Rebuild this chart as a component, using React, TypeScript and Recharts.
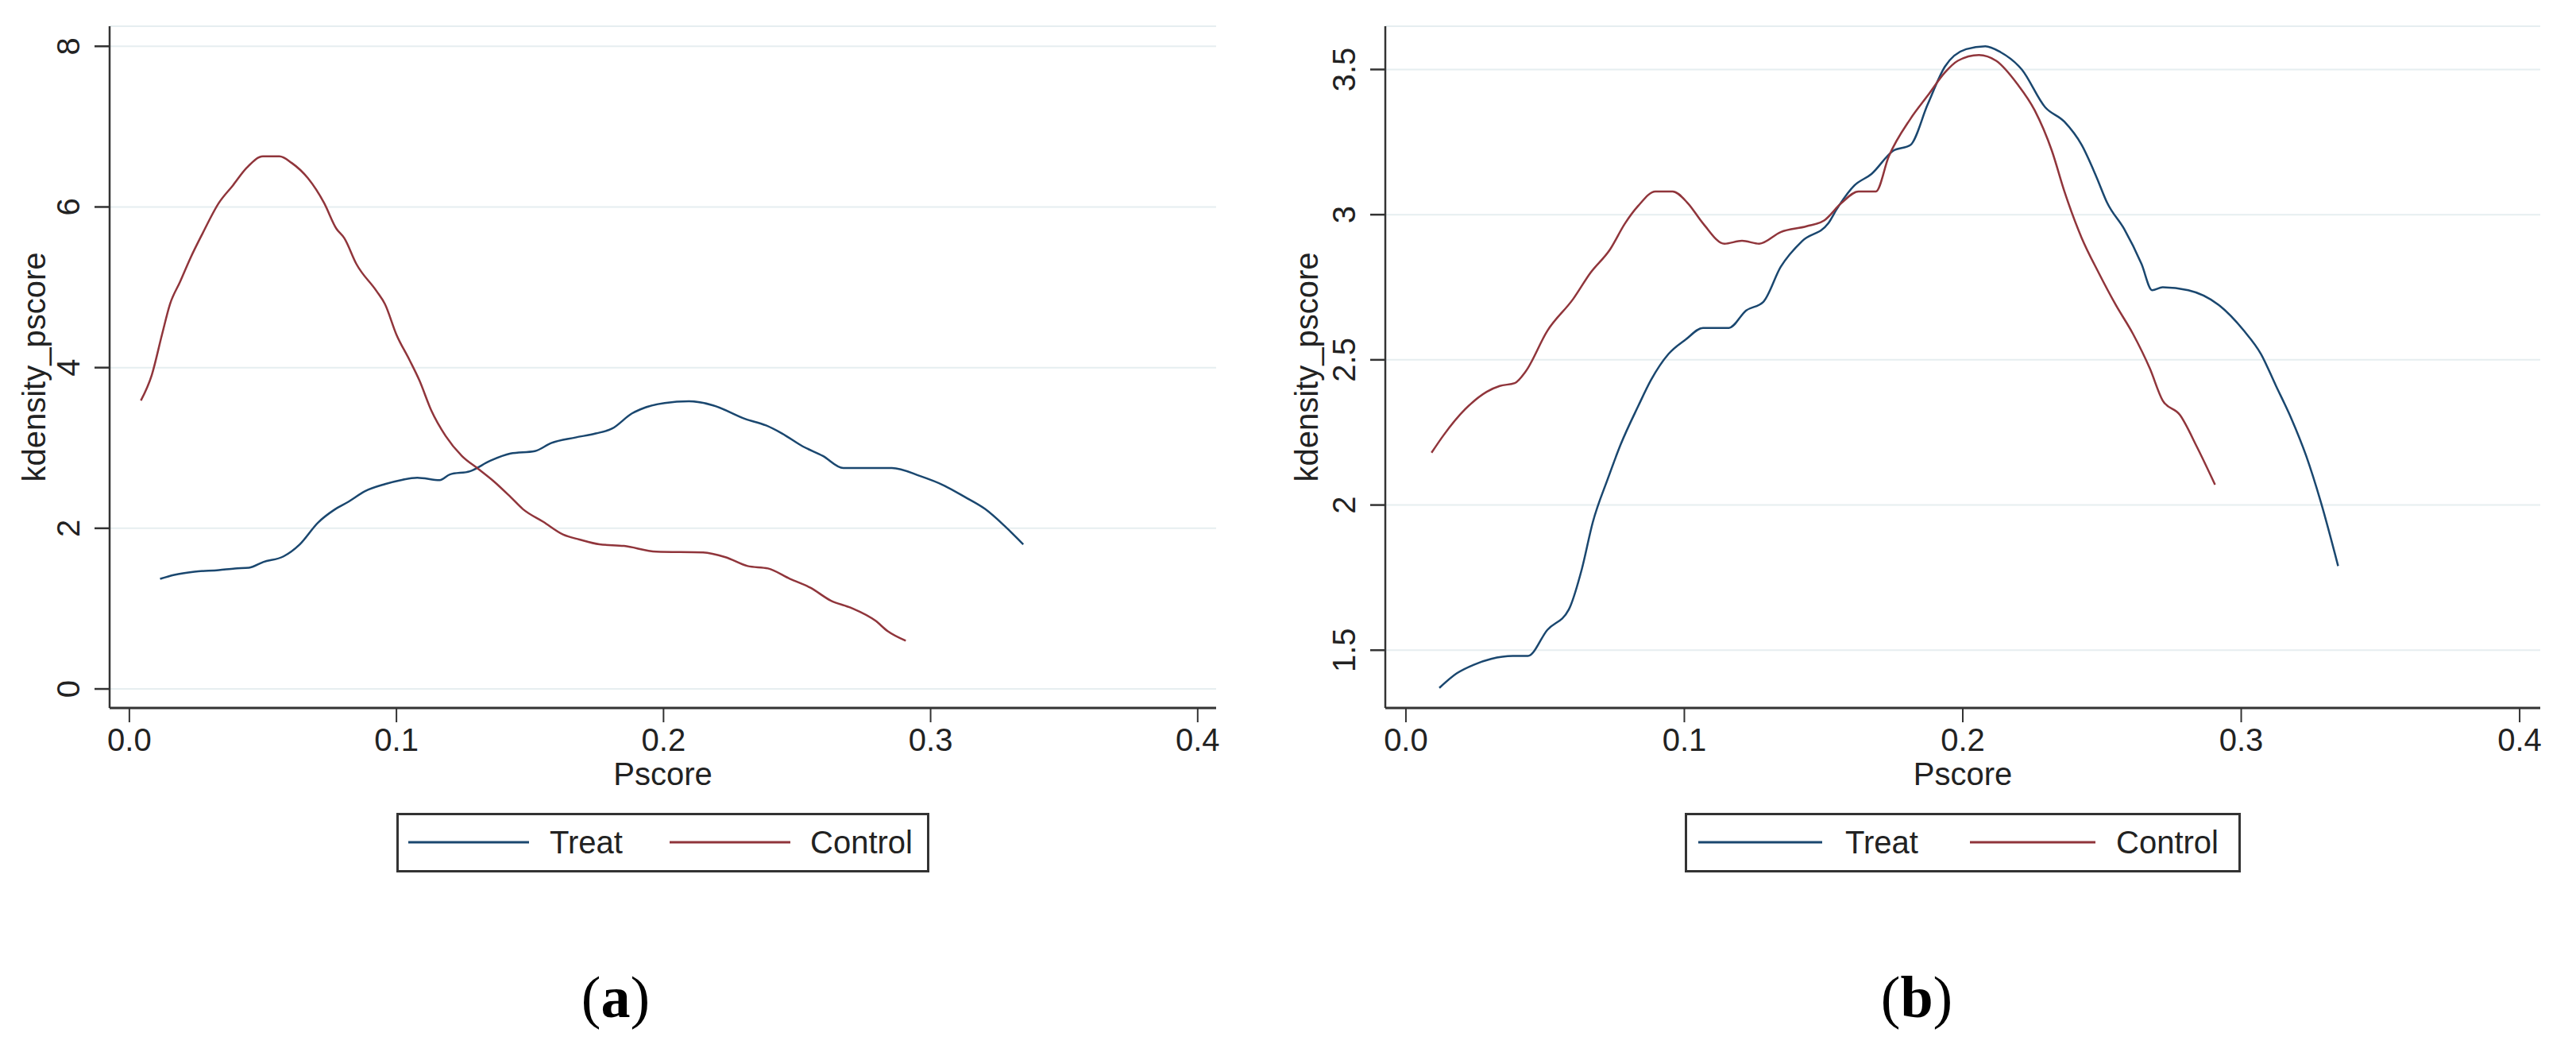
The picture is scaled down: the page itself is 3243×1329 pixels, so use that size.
import React from 'react';
import { LineChart, Line, XAxis, YAxis, CartesianGrid } from 'recharts';

const TREAT_COLOR = '#1a476f';
const CONTROL_COLOR = '#90353b';
const GRID_COLOR = '#e6eef0';
const AXIS_COLOR = '#333333';
const TEXT_COLOR = '#222222';
const FONT = '"Liberation Sans", Arial, Helvetica, sans-serif';
const SERIF = '"Liberation Serif", "Times New Roman", serif';

const seriesNames = ['Treat', 'Control'];
const xTicks = [0, 0.1, 0.2, 0.3, 0.4];
const xTickLabels = ['0.0', '0.1', '0.2', '0.3', '0.4'];
const yTicksA = [0, 2, 4, 6, 8];
const yTicksB = [1.5, 2, 2.5, 3, 3.5];

// panel (a): [pscore, density]
const treatA: [number, number][] = [
  [0.0115, 1.37], [0.0168, 1.42], [0.0244, 1.46], [0.0335, 1.48], [0.0395, 1.5], [0.0448, 1.51],
  [0.0501, 1.58], [0.0577, 1.65], [0.0638, 1.8], [0.0706, 2.07], [0.0767, 2.23], [0.082, 2.33],
  [0.0881, 2.46], [0.0957, 2.55], [0.1017, 2.6], [0.1078, 2.63], [0.1162, 2.6], [0.12, 2.67],
  [0.1275, 2.71], [0.1351, 2.84], [0.1427, 2.93], [0.1518, 2.96], [0.1579, 3.06], [0.167, 3.13],
  [0.1746, 3.18], [0.1807, 3.24], [0.1882, 3.43], [0.1913, 3.48], [0.2004, 3.56], [0.2095, 3.58],
  [0.2186, 3.53], [0.2307, 3.36], [0.2384, 3.28], [0.2444, 3.18], [0.2521, 3.02], [0.2597, 2.9],
  [0.2673, 2.75], [0.2855, 2.75], [0.2961, 2.65], [0.3052, 2.53], [0.3128, 2.39], [0.3204, 2.24],
  [0.328, 2.02], [0.3347, 1.8],
];

const controlA: [number, number][] = [
  [0.0043, 3.59], [0.0084, 3.91], [0.0122, 4.41], [0.0152, 4.79], [0.019, 5.07], [0.0228, 5.36],
  [0.0274, 5.67], [0.0335, 6.05], [0.0388, 6.27], [0.044, 6.49], [0.05, 6.63], [0.0562, 6.63],
  [0.0607, 6.55], [0.0668, 6.36], [0.0729, 6.05], [0.0775, 5.73], [0.0805, 5.61], [0.085, 5.29],
  [0.0926, 4.95], [0.0957, 4.79], [0.1, 4.41], [0.1048, 4.1], [0.1086, 3.84], [0.113, 3.47],
  [0.1184, 3.15], [0.1245, 2.9], [0.1306, 2.74], [0.1366, 2.58], [0.1427, 2.39], [0.1473, 2.24],
  [0.155, 2.08], [0.1625, 1.92], [0.1685, 1.86], [0.176, 1.8], [0.1852, 1.78], [0.1973, 1.71],
  [0.2148, 1.7], [0.2232, 1.64], [0.2315, 1.53], [0.2391, 1.5], [0.2474, 1.37], [0.255, 1.26],
  [0.2626, 1.1], [0.2702, 1.01], [0.2793, 0.85], [0.2839, 0.72], [0.2907, 0.6],
];

// panel (b)
const treatB: [number, number][] = [
  [0.012, 1.37], [0.0182, 1.42], [0.0244, 1.45], [0.0306, 1.47], [0.0384, 1.48], [0.0438, 1.48],
  [0.0508, 1.57], [0.0585, 1.64], [0.0632, 1.78], [0.0671, 1.94], [0.0725, 2.09], [0.0772, 2.21],
  [0.0834, 2.34], [0.088, 2.43], [0.0943, 2.52], [0.1005, 2.57], [0.1067, 2.61], [0.116, 2.61],
  [0.1222, 2.67], [0.1284, 2.7], [0.1346, 2.82], [0.1424, 2.91], [0.1517, 2.97], [0.1548, 3.02],
  [0.161, 3.1], [0.1672, 3.14], [0.175, 3.22], [0.1812, 3.24], [0.1874, 3.38], [0.1936, 3.51],
  [0.2012, 3.57], [0.2081, 3.58], [0.2135, 3.56], [0.2212, 3.5], [0.2296, 3.37], [0.2365, 3.32],
  [0.2427, 3.24], [0.248, 3.13], [0.2519, 3.04], [0.258, 2.95], [0.2642, 2.83], [0.268, 2.74],
  [0.2718, 2.75], [0.281, 2.74], [0.2918, 2.69], [0.301, 2.6], [0.3071, 2.52], [0.3125, 2.41],
  [0.3179, 2.3], [0.3233, 2.17], [0.3286, 2.01], [0.3348, 1.79],
];

const controlB: [number, number][] = [
  [0.0092, 2.18], [0.0135, 2.24], [0.0213, 2.33], [0.029, 2.39], [0.0337, 2.41], [0.0391, 2.42],
  [0.043, 2.46], [0.0508, 2.6], [0.0601, 2.71], [0.0663, 2.8], [0.0733, 2.88], [0.0787, 2.97],
  [0.0834, 3.03], [0.0896, 3.08], [0.0958, 3.08], [0.1012, 3.04], [0.1067, 2.97], [0.1144, 2.9],
  [0.1207, 2.91], [0.1269, 2.9], [0.1346, 2.94], [0.1439, 2.96], [0.1502, 2.98], [0.1564, 3.04],
  [0.1626, 3.08], [0.1688, 3.08], [0.1734, 3.2], [0.1812, 3.33], [0.1874, 3.41], [0.1936, 3.49],
  [0.1982, 3.53], [0.2058, 3.55], [0.212, 3.53], [0.2196, 3.45], [0.2258, 3.36], [0.232, 3.22],
  [0.2365, 3.08], [0.2427, 2.92], [0.2488, 2.8], [0.2549, 2.69], [0.2611, 2.59], [0.2672, 2.47],
  [0.2718, 2.36], [0.278, 2.31], [0.2841, 2.2], [0.2906, 2.07],
];

const toPoints = (arr: [number, number][]) => arr.map(([x, y]) => ({ x, y }));

const XTick = ({ x, y, payload }: any) => {
  const i = xTicks.indexOf(payload.value);
  return (
    <text x={x} y={y + 36} textAnchor="middle" fontSize={40} fontFamily={FONT} fill={TEXT_COLOR}>
      {i >= 0 ? xTickLabels[i] : payload.value}
    </text>
  );
};

// stata puts y labels sideways
const YTick = ({ x, y, payload }: any) => {
  const cx = x - 33;
  return (
    <text
      x={cx}
      y={y}
      transform={`rotate(-90 ${cx} ${y})`}
      textAnchor="middle"
      dominantBaseline="central"
      fontSize={40}
      fontFamily={FONT}
      fill={TEXT_COLOR}
    >
      {payload.value}
    </text>
  );
};

const XTitle = ({ viewBox }: any) => {
  const { x, y, width } = viewBox;
  return (
    <text x={x + width / 2} y={y + 97} textAnchor="middle" fontSize={40} fontFamily={FONT} fill={TEXT_COLOR}>
      Pscore
    </text>
  );
};

const YTitle = ({ viewBox, gap }: any) => {
  const cx = viewBox.x + viewBox.width - gap;
  const cy = viewBox.y + viewBox.height / 2;
  return (
    <text
      x={cx}
      y={cy}
      transform={`rotate(-90 ${cx} ${cy})`}
      textAnchor="middle"
      dominantBaseline="central"
      fontSize={40}
      fontFamily={FONT}
      fill={TEXT_COLOR}
    >
      kdensity_pscore
    </text>
  );
};

interface PanelProps {
  left: number;
  width: number;
  yAxisWidth: number;
  rightMargin: number;
  titleGap: number;
  treat: [number, number][];
  control: [number, number][];
  xDomain: [number, number];
  yDomain: [number, number];
  yTicks: number[];
}

const Panel = ({ left, width, yAxisWidth, rightMargin, titleGap, treat, control, xDomain, yDomain, yTicks }: PanelProps) => (
  <div style={{ position: 'absolute', left, top: 0 }}>
    <LineChart width={width} height={1010} margin={{ top: 33, right: rightMargin, bottom: 0, left: 0 }}>
      <CartesianGrid horizontal vertical={false} stroke={GRID_COLOR} strokeWidth={2} />
      <XAxis
        dataKey="x"
        type="number"
        domain={xDomain}
        allowDataOverflow
        ticks={xTicks}
        interval={0}
        height={119}
        tickSize={18}
        tickMargin={0}
        tick={<XTick />}
        axisLine={{ stroke: AXIS_COLOR, strokeWidth: 3 }}
        tickLine={{ stroke: AXIS_COLOR, strokeWidth: 2 }}
        label={<XTitle />}
      />
      <YAxis
        type="number"
        domain={yDomain}
        allowDataOverflow
        ticks={yTicks}
        interval={0}
        width={yAxisWidth}
        tickSize={19}
        tickMargin={0}
        tick={<YTick />}
        axisLine={{ stroke: AXIS_COLOR, strokeWidth: 2.5 }}
        tickLine={{ stroke: AXIS_COLOR, strokeWidth: 2.5 }}
        label={<YTitle gap={titleGap} />}
      />
      <Line
        data={toPoints(treat)}
        dataKey="y"
        name={seriesNames[0]}
        type="monotone"
        stroke={TREAT_COLOR}
        strokeWidth={2.5}
        dot={false}
        activeDot={false}
        isAnimationActive={false}
      />
      <Line
        data={toPoints(control)}
        dataKey="y"
        name={seriesNames[1]}
        type="monotone"
        stroke={CONTROL_COLOR}
        strokeWidth={2.5}
        dot={false}
        activeDot={false}
        isAnimationActive={false}
      />
    </LineChart>
  </div>
);

// legend box under each panel, [lineStart, lineEnd, textX] per entry
const LegendBox = ({ left, width, slots }: { left: number; width: number; slots: number[][] }) => {
  const colors = [TREAT_COLOR, CONTROL_COLOR];
  return (
    <svg style={{ position: 'absolute', left, top: 1023 }} width={width} height={75}>
      <rect x={1.5} y={1.5} width={width - 3} height={72} fill="#fff" stroke={AXIS_COLOR} strokeWidth={3} />
      {seriesNames.map((name, i) => (
        <g key={name}>
          <line x1={slots[i][0]} x2={slots[i][1]} y1={37} y2={37} stroke={colors[i]} strokeWidth={3} />
          <text x={slots[i][2]} y={51} fontSize={40} fontFamily={FONT} fill={TEXT_COLOR}>
            {name}
          </text>
        </g>
      ))}
    </svg>
  );
};

const Caption = ({ cx, letter }: { cx: number; letter: string }) => (
  <svg style={{ position: 'absolute', left: cx - 80, top: 1200 }} width={160} height={110}>
    <text x={80} y={80} textAnchor="middle" fontSize={74} fontFamily={SERIF} fill="#000">
      (<tspan fontWeight="bold">{letter}</tspan>)
    </text>
  </svg>
);

export default function App() {
  return (
    <div style={{ position: 'absolute', left: 0, top: 0, width: 3243, height: 1329, background: '#fff', overflow: 'hidden' }}>
      <Panel
        left={0}
        width={1600}
        yAxisWidth={138}
        rightMargin={69}
        titleGap={95}
        treat={treatA}
        control={controlA}
        xDomain={[-0.0074, 0.4069]}
        yDomain={[-0.237, 8.25]}
        yTicks={yTicksA}
      />
      <Panel
        left={1600}
        width={1643}
        yAxisWidth={144}
        rightMargin={45}
        titleGap={99}
        treat={treatB}
        control={controlB}
        xDomain={[-0.0074, 0.4074]}
        yDomain={[1.301, 3.649]}
        yTicks={yTicksB}
      />
      <LegendBox left={499} width={671} slots={[[15, 167, 193], [344, 496, 521]]} />
      <LegendBox left={2121} width={700} slots={[[17, 173, 202], [359, 517, 543]]} />
      <Caption cx={775} letter="a" />
      <Caption cx={2413} letter="b" />
    </div>
  );
}
